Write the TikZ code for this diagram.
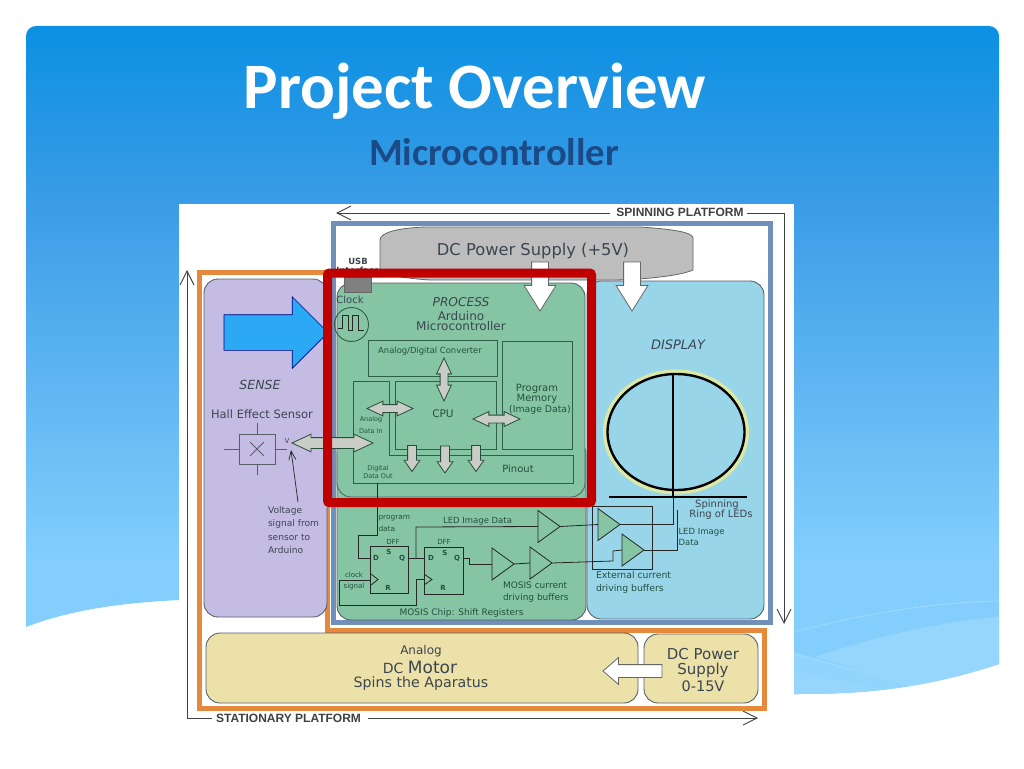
\documentclass[tikz,border=0pt]{standalone}
\usepackage{fontspec}
\setmainfont{DejaVu Sans}
\newfontfamily\titlefont{Carlito}
\newfontfamily\platfont{Liberation Sans}
\usetikzlibrary{shapes.geometric,shapes.arrows,arrows.meta}
\definecolor{panelA}{HTML}{0B90E3}
\definecolor{panelB}{HTML}{3A9CE6}
\definecolor{panelC}{HTML}{83CEFD}
\definecolor{waveA}{HTML}{97D6FC}
\definecolor{waveLine}{HTML}{A5DCFD}
\definecolor{orangeB}{HTML}{E5893C}
\definecolor{blueB}{HTML}{7090BA}
\definecolor{redB}{HTML}{C00000}
\definecolor{senseF}{HTML}{C5BCE4}
\definecolor{procF}{HTML}{86C5A4}
\definecolor{dispF}{HTML}{98D5E9}
\definecolor{motorF}{HTML}{ECE1A8}
\definecolor{edgeG}{HTML}{2F5F4A}
\definecolor{edgeD}{HTML}{55606A}
\definecolor{txtD}{HTML}{3B4650}
\definecolor{txtG}{HTML}{24503F}
\definecolor{arrF}{HTML}{C9CDC6}
\definecolor{haloY}{HTML}{DCE9A4}
\definecolor{subT}{HTML}{1B4A86}
\newcommand{\fsz}[1]{\fontsize{#1}{#1}\selectfont}
\newcommand{\bx}[6]{\node[#1,minimum width={(#5-#3)*1pt},minimum height={(#6-#4)*1pt}] (#2) at ({(#3+#5)/2},{(#4+#6)/2}) {};}
\newcommand{\lbl}[5][txtG]{\node[lab,text=#1] (#2) at (#3) {\fsz{#4}#5};}
\newcommand{\buf}[3]{\draw[wire,fill=procF] (#2,#3-16) -- (#2+22,#3) -- (#2,#3+16) -- cycle;
  \coordinate (#1in) at (#2,#3); \coordinate (#1out) at (#2+22,#3);}
\tikzset{
  lab/.style={inner sep=0pt,outer sep=0pt,align=center},
  boxbase/.style={inner sep=0pt,outer sep=0pt,rounded corners=14pt,line width=0.9pt},
  sensebox/.style={boxbase,draw=edgeD,fill=senseF},
  procbox/.style={boxbase,draw=edgeD,fill=procF},
  dispbox/.style={boxbase,draw=edgeD,fill=dispF},
  motorbox/.style={boxbase,draw=edgeD,fill=motorF},
  inner/.style={inner sep=0pt,outer sep=0pt,draw=edgeG,line width=0.9pt},
  wire/.style={draw=black!85,line width=0.8pt},
  track/.style={draw=black!75,line width=0.9pt},
  barb/.style={-{Straight Barb[length=14pt,width=14pt,line width=0.9pt]}},
  garrow/.style={inner xsep=0pt,outer sep=0pt,draw=edgeG!80!black,line width=0.8pt,fill=arrF},
  warrow/.style={inner xsep=0pt,outer sep=0pt,draw=black!60,line width=0.8pt,fill=white},
  dbl/.style={garrow,shape=double arrow,inner ysep=3.5pt,double arrow head extend=3.5pt,double arrow tip angle=50},
  sgl/.style={garrow,shape=single arrow,inner ysep=4pt,single arrow head extend=3.5pt,single arrow tip angle=70,anchor=tip}
}
\begin{document}
\begin{tikzpicture}[x=1pt,y=-1pt]
\useasboundingbox (0,0) rectangle (1024,768);
\fill[white] (0,0) rectangle (1024,768);
% slide panel
\begin{scope}
\clip[rounded corners=10pt] (26,640) -- (26,26) -- (999,26) -- (999,700) -- (26,700) -- cycle;
\clip (20,20) -- (1005,20)
  -- (1005,662) -- (999,664) .. controls (920,690) and (860,694) .. (794,694) -- (500,694) -- (179,600)
  .. controls (120,603) and (70,610) .. (26,627) -- (20,630) -- cycle;
\shade[top color=panelA,bottom color=panelB] (0,26) rectangle (1024,200);
\shade[top color=panelB,bottom color=panelC] (0,200) rectangle (1024,560);
\fill[panelC] (0,560) rectangle (1024,700);
\fill[waveA] (815,657) .. controls (880,635) and (950,620) .. (999,617) -- (999,700) -- (918,700) -- (918,687) -- cycle;
\fill[waveA!70!panelC] (794,652) -- (918,687) -- (900,700) -- (794,700) -- cycle;
\fill[waveA] (794,672) .. controls (840,680) and (880,690) .. (900,692) -- (900,700) -- (794,700) -- cycle;
\draw[waveLine,line width=0.7pt] (794,632) .. controls (870,612) and (940,602) .. (999,601);
\draw[waveLine,line width=0.7pt] (794,654) -- (918,687);
\end{scope}
\node[lab,text=white,anchor=base] (title) at (475,108) {\titlefont\bfseries\fsz{64.8}Project Overview};
\node[lab,text=subT,anchor=base] (subtitle) at (494,165) {\titlefont\bfseries\fsz{38.6}Microcontroller};
% picture area
\fill[white] (179,204) rectangle (794,730);
% platforms
\coordinate (s1) at (610,213); \coordinate (s2) at (336,213);
\coordinate (s3) at (747,213); \coordinate (s4) at (784,213); \coordinate (s5) at (784,624);
\coordinate (t1) at (212,718); \coordinate (t2) at (187,718); \coordinate (t3) at (187,270);
\coordinate (t4) at (368,718); \coordinate (t5) at (758,718);
\draw[track,barb] (s1) -- (s2);
\draw[track,barb] (s3) -- (s4) -- (s5);
\draw[track,barb] (t1) -- (t2) -- (t3);
\draw[track,barb] (t4) -- (t5);
\node[lab,text=black!75] (spinlbl) at (680,212.5) {\platfont\bfseries\fsz{12}SPINNING PLATFORM};
\node[lab,text=black!75] (statlbl) at (288.5,718) {\platfont\bfseries\fsz{12}STATIONARY PLATFORM};
% outer frames
\draw[orangeB,line width=5pt,line join=miter] (199.5,272) -- (327,272) -- (327,630) -- (764,630) -- (764,708) -- (199.5,708) -- cycle;
\draw[blueB,line width=5pt] (333.5,223) -- (770,223) -- (770,622.5) -- (333.5,622.5) -- cycle;
% DC supply
\draw[draw=gray!80!black,fill=black!26,line width=0.8pt] (380,240) .. controls (380,232) and (400,228) .. (425,227) -- (640,227)
  .. controls (670,229) and (693,232) .. (693,238) -- (693,270) .. controls (680,276) and (640,280) .. (610,280) -- (430,280)
  .. controls (400,278) and (380,274) .. (380,268) -- cycle;
\lbl[txtD]{dclbl}{533,251}{16.3}{DC Power Supply (+5V)}
% main blocks
\bx{sensebox}{sense}{204}{279}{327}{617}
\bx{procbox}{mosis}{337}{440}{586}{620}
\bx{procbox}{proc}{337}{283}{585}{497}
\bx{dispbox}{disp}{587}{281}{764}{619}
\bx{motorbox}{motor}{206}{633}{638}{703}
\bx{motorbox}{power}{644}{634}{758}{703}
% USB and clock
\node[lab,text=txtD] (usb) at (358,261) {\bfseries\fsz{8.5}USB};
\node[lab,text=txtD] (usbif) at (358,270) {\bfseries\fsz{8.5}Interface};
\bx{draw=black!60,fill=black!50,inner sep=0pt,outer sep=0pt}{usbbox}{344}{277}{371}{292}
\lbl[txtD]{clocklbl}{350,300}{10}{Clock}
\node[circle,draw=edgeG,line width=0.9pt,minimum size=34pt,inner sep=0pt] (clock) at (351.5,324.5) {};
\draw[black!85,line width=1pt] (338,328) -- (342,328) -- (342,315) -- (348,315) -- (348,330) -- (352,330) -- (352,315) -- (358,315) -- (358,330) -- (364,330);
% process text
\node[lab,text=txtD] (plbl) at (461,302) {\itshape\fsz{12.2}PROCESS};
\lbl[txtD]{ardlbl}{461,316}{12}{Arduino}
\lbl[txtD]{mclbl}{461,326}{12}{Microcontroller}
% inner blocks
\bx{inner}{adc}{368}{340}{497}{376}
\lbl{adclbl}{430,351}{8.4}{Analog/Digital Converter}
\bx{inner}{mem}{502}{341}{572}{449}
\lbl{m1}{537,388.5}{10}{Program}
\lbl{m2}{537,398.5}{10}{Memory}
\lbl{m3}{540,409.5}{9.3}{(Image Data)}
\draw[inner] (353,381) -- (389,381) -- (389,455) -- (573,455) -- (573,483) -- (353,483) -- cycle;
\bx{inner}{cpu}{395}{381}{496}{449}
\lbl{cpulbl}{443,414}{10.5}{CPU}
\lbl{pinlbl}{518,469}{10}{Pinout}
\lbl{ai1}{371,420}{6.5}{Analog}
\lbl{ai2}{371,431}{6.5}{Data In}
\lbl{do1}{378,469}{6.5}{Digital}
\lbl{do2}{378,476.5}{6.5}{Data Out}
% gray arrows
\node[dbl,minimum height=43pt,rotate=90] (a1) at (444,379.5) {};
\node[dbl,minimum height=46pt] (a2) at (390,408.5) {};
\node[dbl,minimum height=47pt] (a3) at (496.5,419) {};
\node[dbl,inner ysep=5pt,minimum height=81pt] (a4) at (332.5,443) {};
\node[sgl,minimum height=26pt,rotate=-90] (d1) at (412,471.5) {};
\node[sgl,minimum height=27pt,rotate=-90] (d2) at (445,473) {};
\node[sgl,minimum height=26pt,rotate=-90] (d3) at (476,471.5) {};
% sense
\node[lab,text=txtD] (senselbl) at (260,385) {\itshape\fsz{12.5}SENSE};
\lbl[txtD]{halllbl}{262,414}{11.5}{Hall Effect Sensor}
\bx{draw=edgeD,line width=0.9pt,inner sep=0pt,outer sep=0pt}{hall}{239}{434}{275}{464}
\coordinate (hl) at (224,449); \coordinate (hr) at (287,449); \coordinate (ht) at (257,423); \coordinate (hb) at (257,475);
\draw[edgeD,line width=0.9pt] (hl) -- (hall.west) (hr) -- (hall.east) (ht) -- (hall.north) (hb) -- (hall.south);
\draw[edgeD,line width=0.8pt] (250,442) -- (264,456) (264,442) -- (250,456);
\lbl[txtD]{vlbl}{287,441}{7}{V}
\coordinate (vs) at (298,502); \coordinate (ve) at (291,450);
\draw[black!85,line width=0.7pt,-{Straight Barb[length=9pt,width=7pt,line width=0.7pt]}] (vs) -- (ve);
\node[lab,text=txtD,anchor=west] (volt1) at (268,511) {\fsz{9.1}Voltage};
\node[lab,text=txtD,anchor=west] (volt2) at (268,524) {\fsz{9.1}signal from};
\node[lab,text=txtD,anchor=west] (volt3) at (268,537) {\fsz{9.1}sensor to};
\node[lab,text=txtD,anchor=west] (volt4) at (268,550) {\fsz{9.1}Arduino};
% big arrows
\node[shape=single arrow,anchor=tip,single arrow head extend=18pt,inner xsep=0pt,inner ysep=17.5pt,minimum height=104pt,outer sep=0pt,draw=black!50!blue,line width=0.7pt,fill={rgb,255:red,43;green,169;blue,245}] (bigblue) at (328,332.5) {};
\node[warrow,shape=single arrow,anchor=tip,single arrow head extend=7.5pt,single arrow tip angle=64,inner ysep=8pt,minimum height=49pt,rotate=-90] (w1) at (540,311) {};
\node[warrow,shape=single arrow,anchor=tip,single arrow head extend=7.5pt,single arrow tip angle=64,inner ysep=8pt,minimum height=49pt,rotate=-90] (w2) at (632,311) {};
\node[warrow,shape=single arrow,anchor=tip,single arrow head extend=7pt,single arrow tip angle=82,inner ysep=6pt,minimum height=59pt,rotate=180] (w3) at (603,671) {};
% display
\node[lab,text=txtD] (displbl) at (678,345) {\itshape\fsz{13}DISPLAY};
\node[ellipse,draw=haloY,line width=5pt,minimum width=141pt,minimum height=120pt,inner sep=0pt,outer sep=0pt] (halo) at (676,432) {};
\node[ellipse,draw=black,line width=2.4pt,minimum width=137pt,minimum height=116pt,inner sep=0pt,outer sep=0pt] (ring) at (676,432) {};
\coordinate (ringbase) at (673,497); \coordinate (ringtop) at (673,373);
\coordinate (barL) at (609,497); \coordinate (barR) at (747,497);
\draw[black,line width=2pt] (ringtop) -- (ringbase);
\draw[black,line width=2.4pt] (barL) -- (barR);
\lbl[txtD]{sp1}{717,505}{10}{Spinning}
\lbl[txtD]{sp2}{721,514.5}{10}{Ring of LEDs}
% shift registers
\bx{wire,inner sep=0pt,outer sep=0pt}{dff1}{370}{546}{408}{593}
\bx{wire,inner sep=0pt,outer sep=0pt}{dff2}{424}{547}{463}{594}
\draw[wire] (371,574) -- (378,579.5) -- (371,585);
\draw[wire] (424,574) -- (432,579.5) -- (424,585);
\foreach \nm/\px/\py/\tt in {da/393/542/DFF,db/444/542/DFF} {\node[lab,text=txtG] (\nm) at (\px,\py) {\fsz{7}\tt};}
\foreach \nm/\px/\py/\tt in {sa/389/552/S,qa/402/558/Q,ra/388/588/R,ka/376/558/D,sb/445/553/S,qb/457/558/Q,rb/443/588/R,kb/431/558/D} {\node[lab,text=txtG] (\nm) at (\px,\py) {\bfseries\fsz{7}\tt};}
\coordinate (dout) at (377,483); \coordinate (w1a) at (377,535); \coordinate (w1b) at (358,535); \coordinate (w1c) at (358,558); \coordinate (w1d) at (370,558);
\draw[wire] (dout) -- (w1a) -- (w1b) -- (w1c) -- (w1d);
\coordinate (q1) at (408,558); \coordinate (d2) at (424,558); \coordinate (jn) at (416,558); \coordinate (jn2) at (416,527);
\draw[wire] (q1) -- (d2);
\coordinate (clk0) at (339,605); \coordinate (clk1) at (339,580); \coordinate (clk2) at (370,580);
\coordinate (clk3) at (416,605); \coordinate (clk4) at (416,579.5); \coordinate (clk5) at (424,579.5);
\draw[wire] (clk2) -- (clk1) -- (clk0) -- (clk3) -- (clk4) -- (clk5);
\node[lab,text=txtG,anchor=west] (pd1) at (378.5,518) {\fsz{7.4}program};
\node[lab,text=txtG,anchor=west] (pd3) at (378.5,528.5) {\fsz{7.4}data};
\lbl{ck1}{354,575}{7}{clock}
\lbl{ck2}{354,586.5}{7}{signal}
% buffers
\buf{ba}{492}{564}
\buf{bb}{530}{563}
\buf{bc}{538}{526.5}
\buf{ex}{598}{524.5}
\buf{ey}{622}{550}
\draw[wire] (jn) -- (jn2) -- (bcin);
\coordinate (q2) at (463,558); \coordinate (q2a) at (469,558); \coordinate (q2b) at (469,564);
\draw[wire] (q2) -- (q2a) -- (q2b) -- (bain);
\draw[wire] (baout) -- (bbin);
\draw[wire] (bcout) -- (exin);
\coordinate (e1) at (613,561); \coordinate (e2) at (613,551);
\draw[wire] (bbout) -- (e1) -- (e2) -- (eyin);
\coordinate (f1) at (673,524.5); \coordinate (f2) at (673,497);
\draw[wire] (exout) -- (f1) -- (f2);
\coordinate (g1) at (677,550); \coordinate (g2) at (677,510);
\draw[wire] (eyout) -- (g1) -- (g2);
\bx{wire,inner sep=0pt,outer sep=0pt}{extframe}{592}{506}{652}{569}
\lbl{ledtxt}{477.5,521}{8.5}{LED Image Data}
\node[lab,text=txtG,anchor=west] (led2) at (678.5,532) {\fsz{8.5}LED Image};
\node[lab,text=txtG,anchor=west] (led3) at (678.5,542) {\fsz{8.5}Data};
\node[lab,text=txtG,anchor=west] (ext1) at (596,575.5) {\fsz{9.3}External current};
\node[lab,text=txtG,anchor=west] (ext2) at (596,588.5) {\fsz{9.3}driving buffers};
\node[lab,text=txtG,anchor=west] (mos1) at (503,585.5) {\fsz{9}MOSIS current};
\node[lab,text=txtG,anchor=west] (mos2) at (503,598.5) {\fsz{9}driving buffers};
\lbl{moschip}{461.5,613}{9}{MOSIS Chip: Shift Registers}
% motor text
\lbl[txtD]{mt1}{421,651}{12}{Analog}
\node[lab,text=txtD] (mt2) at (420,667) {\fsz{14}DC \fsz{17}Motor};
\lbl[txtD]{mt3}{421,684}{14.2}{Spins the Aparatus}
\lbl[txtD]{pw1}{703,654}{15}{DC Power}
\lbl[txtD]{pw2}{703,670}{15}{Supply}
\lbl[txtD]{pw3}{703,686}{14.5}{0-15V}
% highlight
\draw[redB,line width=9pt,rounded corners=2pt] (327.5,273) -- (591.5,273) -- (591.5,502.5) -- (327.5,502.5) -- cycle;
\end{tikzpicture}
\end{document}
